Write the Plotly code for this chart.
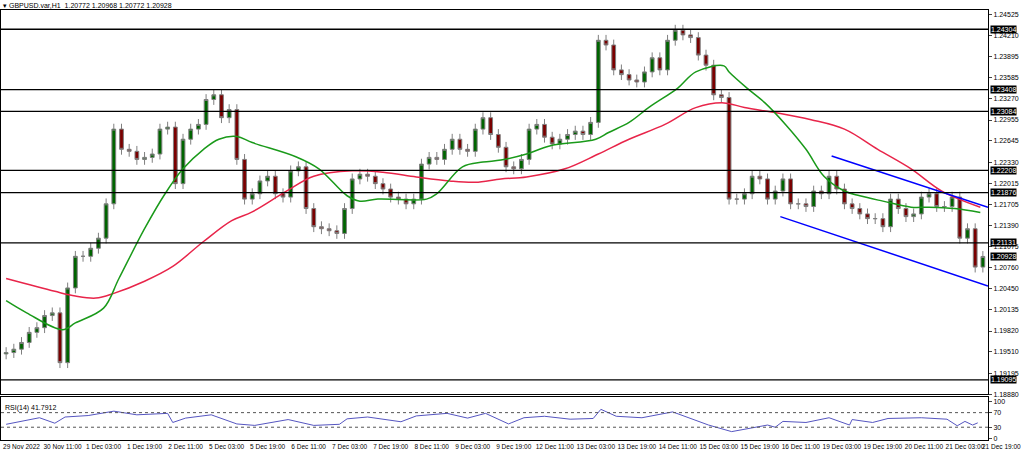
import plotly.graph_objects as go
from plotly.subplots import make_subplots

closes = [1.1950,1.1955,1.1965,1.1980,1.1987,1.2005,1.2009,1.1935,1.2046,1.2093,
1.2093,1.2105,1.2120,1.2171,1.2282,1.2252,1.2249,1.2237,1.2240,1.2245,
1.2282,1.2285,1.2201,1.2267,1.2282,1.2289,1.2326,1.2333,1.2299,1.2311,
1.2237,1.2178,1.2186,1.2205,1.2212,1.2186,1.2181,1.2220,1.2226,1.2164,
1.2137,1.2134,1.2131,1.2127,1.2164,1.2208,1.2215,1.2212,1.2201,1.2193,
1.2181,1.2178,1.2171,1.2178,1.2230,1.2240,1.2237,1.2252,1.2267,1.2252,
1.2249,1.2282,1.2299,1.2274,1.2255,1.2226,1.2223,1.2237,1.2282,1.2289,
1.2270,1.2260,1.2267,1.2274,1.2279,1.2274,1.2292,1.2414,1.2407,1.2370,
1.2363,1.2355,1.2352,1.2367,1.2388,1.2370,1.2414,1.2429,1.2422,1.2418,
1.2392,1.2377,1.2333,1.2329,1.2178,1.2178,1.2186,1.2212,1.2208,1.2178,
1.2190,1.2208,1.2171,1.2171,1.2167,1.2190,1.2186,1.2212,1.2193,1.2171,
1.2164,1.2156,1.2149,1.2149,1.2137,1.2178,1.2164,1.2152,1.2156,1.2181,
1.2186,1.2167,1.2167,1.2181,1.2120,1.2134,1.2077,1.20928]
first_open = 1.1948
bar_hours = 3

ma50_h = [0,8,22,27,38,44,54,62,69,77,83,90,96,113,122,133,138,145,164,168,178,186,193,203,212,230,235,243,251,262,269,280,282,289,296,304,312,319,327,333,342,353,360,370,380]
ma50_p = [1.2027,1.2009,1.1984,1.1994,1.2016,1.2060,1.2134,1.2186,1.2223,1.2252,1.2267,1.2271,1.2262,1.2241,1.2223,1.2183,1.2175,1.2178,1.2178,1.2186,1.2226,1.2233,1.2236,1.2245,1.2257,1.2267,1.2277,1.2292,1.2315,1.2343,1.2367,1.2376,1.2367,1.2343,1.2321,1.2289,1.2252,1.2212,1.2190,1.2183,1.2175,1.2166,1.2166,1.2164,1.2158]
ma100_h = [0,19,27,35,42,54,65,77,88,96,109,120,135,147,160,173,183,193,203,218,231,243,257,269,280,288,301,314,327,340,353,365,380]
ma100_p = [1.2060,1.2041,1.2034,1.2031,1.2038,1.2056,1.2078,1.2115,1.2146,1.2159,1.2189,1.2212,1.2220,1.2218,1.2211,1.2205,1.2203,1.2208,1.2211,1.2223,1.2245,1.2267,1.2289,1.2314,1.2321,1.2314,1.2306,1.2296,1.2282,1.2252,1.2223,1.2190,1.2166]

chan_up_h = [322, 383]; chan_up_p = [1.2242, 1.2166]
chan_lo_h = [302, 383]; chan_lo_p = [1.2152, 1.2049]

levels = [1.24304, 1.23408, 1.23084, 1.22208, 1.21876, 1.21131, 1.19095]
last_price = 1.20928

rsi_h = [0,7,13,19,23,32,42,51,63,65,70,80,90,97,110,120,130,133,141,154,160,172,180,187,196,
197,202,210,220,229,232,238,248,260,267,274,283,289,297,300,303,312,321,329,330,338,344,357,367,371,374,377,379]
rsi_v = [38,48,56,41,58,62,74,64,68,43,55,64,39,35,51,35,38,53,58,45,61,68,55,68,39,
42,56,60,52,54,79,60,56,72,54,36,18,26,36,30,46,43,56,36,51,43,54,56,52,34,46,36,42]

price_ticks = [1.24525,1.24210,1.23895,1.23585,1.23270,1.22955,1.22645,1.22330,1.22015,1.21705,
1.21390,1.21075,1.20760,1.20450,1.20135,1.19820,1.19510,1.19195,1.18880]
time_labels = ["29 Nov 2022","30 Nov 11:00","1 Dec 03:00","1 Dec 19:00","2 Dec 11:00","5 Dec 03:00",
"5 Dec 19:00","6 Dec 11:00","7 Dec 03:00","7 Dec 19:00","8 Dec 11:00","9 Dec 03:00","9 Dec 19:00",
"12 Dec 11:00","13 Dec 03:00","13 Dec 19:00","14 Dec 11:00","15 Dec 03:00","15 Dec 19:00",
"16 Dec 11:00","19 Dec 03:00","19 Dec 19:00","20 Dec 11:00","21 Dec 03:00"]
time_hours = [6,22,38,54,70,86,102,118,134,150,166,182,198,214,230,246,262,278,294,310,326,342,358,374]

n = len(closes)
x = [i * bar_hours for i in range(n)]
opens = [first_open] + closes[:-1]
highs = [max(o, c) + 0.0008 for o, c in zip(opens, closes)]
lows = [min(o, c) - 0.0008 for o, c in zip(opens, closes)]

FONT = "Liberation Sans"
fig = make_subplots(rows=2, cols=1, shared_xaxes=True, row_heights=[0.9, 0.1], vertical_spacing=0.007)
fig.add_trace(go.Candlestick(x=x, open=opens, high=highs, low=lows, close=closes,
    increasing=dict(line=dict(color="#7f7f7f", width=1), fillcolor="#006400"),
    decreasing=dict(line=dict(color="#7f7f7f", width=1), fillcolor="#7a0000"),
    whiskerwidth=0, showlegend=False), row=1, col=1)
fig.add_trace(go.Scatter(x=ma100_h, y=ma100_p, mode="lines", line=dict(color="#e8254a", width=1.5), line_shape="spline", showlegend=False), row=1, col=1)
fig.add_trace(go.Scatter(x=ma50_h, y=ma50_p, mode="lines", line=dict(color="#1a9a1a", width=1.5), line_shape="spline", showlegend=False), row=1, col=1)
fig.add_trace(go.Scatter(x=chan_up_h, y=chan_up_p, mode="lines", line=dict(color="#0000ff", width=1.5), showlegend=False), row=1, col=1)
fig.add_trace(go.Scatter(x=chan_lo_h, y=chan_lo_p, mode="lines", line=dict(color="#0000ff", width=1.5), showlegend=False), row=1, col=1)
fig.add_trace(go.Scatter(x=rsi_h, y=rsi_v, mode="lines", line=dict(color="#5555c0", width=1), showlegend=False), row=2, col=1)

for lv in levels:
    fig.add_hline(y=lv, line=dict(color="#000000", width=1.3), row=1, col=1)
for lv in levels + [last_price]:
    fig.add_annotation(x=1.0, xref="paper", y=lv, yref="y", text=f"{lv:.5f}", showarrow=False,
        xanchor="left", bgcolor="#000000", font=dict(color="white", size=7, family=FONT),
        borderpad=0, xshift=2)
for lv in [70, 30]:
    fig.add_hline(y=lv, line=dict(color="#555555", width=1, dash="dot"), row=2, col=1)

fig.add_annotation(x=0, xref="paper", y=1.0, yref="paper", yanchor="bottom", xanchor="left",
    text="▾ GBPUSD.var,H1  1.20772 1.20968 1.20772 1.20928", showarrow=False,
    font=dict(size=7, family=FONT, color="#000"), yshift=-1)
fig.add_annotation(x=0.002, xref="paper", y=100, yref="y2", yanchor="top", xanchor="left",
    text="RSI(14) 41.7912", showarrow=False, font=dict(size=7, family=FONT, color="#000"))
fig.add_annotation(x=1.0, xref="paper", y=0, yref="paper", yanchor="top", xanchor="left",
    text="21 Dec 19:00", showarrow=False, font=dict(size=6.5, family=FONT, color="#000"), yshift=-1, xshift=-8)

fig.update_xaxes(range=[-2, 383], showgrid=False, rangeslider_visible=False, showline=True,
    linecolor="#000", mirror=True, ticks="", tickfont=dict(size=6.5, family=FONT, color="#000"),
    tickangle=0, automargin=False)
fig.update_xaxes(tickvals=time_hours, ticktext=time_labels, row=2, col=1)
fig.update_yaxes(side="right", showgrid=False, showline=True, linecolor="#000", mirror=True,
    ticks="outside", ticklen=3, tickfont=dict(size=7, family=FONT, color="#000"), automargin=False)
fig.update_yaxes(range=[1.1888, 1.2459], tickvals=price_ticks, ticktext=[f"{t:.5f}" for t in price_ticks], row=1, col=1)
fig.update_yaxes(range=[-5, 112], tickvals=[0, 30, 70, 100], row=2, col=1)

fig.update_layout(width=1024, height=452, margin=dict(l=1, r=36, t=10, b=12),
    paper_bgcolor="white", plot_bgcolor="white")
fig.write_html("out.html", config={"displayModeBar": False},
    post_script="document.body.style.margin='0';document.body.style.overflow='hidden';")
